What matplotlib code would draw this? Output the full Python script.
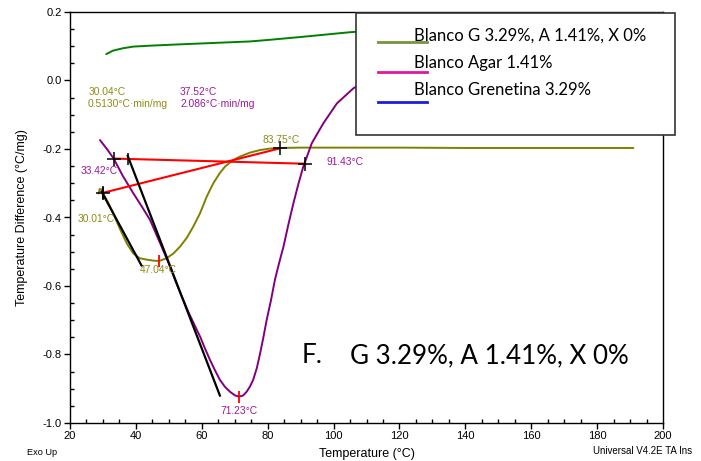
import matplotlib
matplotlib.use("Agg")
import matplotlib.pyplot as plt
from matplotlib.ticker import MultipleLocator
from matplotlib.lines import Line2D
from matplotlib.patches import Rectangle

# DSC curves (temperature in C, heat flow in C/mg)
grenetina_t = [31, 32, 33, 36, 39.2, 45, 52, 59.5, 67, 74.6, 79.7, 90, 105, 120, 150, 190]
grenetina_y = [0.077, 0.082, 0.087, 0.094, 0.099, 0.102, 0.105, 0.108, 0.111, 0.114,
               0.118, 0.127, 0.141, 0.150, 0.160, 0.168]

mezcla_t = [28.7, 29.0, 29.6, 30.0, 31.5, 33, 35, 37.2, 39.2, 41.2, 43.3, 45.3, 47.04,
            49.3, 51.4, 53.4, 55.4, 57.4, 59.5, 61.5, 63.5, 65.5, 67, 68.5, 70, 71.6,
            74.5, 77.7, 80.5, 83.75, 90, 100, 120, 140, 160, 180, 191]
mezcla_y = [-0.33, -0.317, -0.318, -0.328, -0.355, -0.385, -0.43, -0.475, -0.505, -0.519,
            -0.523, -0.526, -0.527, -0.519, -0.505, -0.485, -0.46, -0.427, -0.387, -0.339,
            -0.30, -0.27, -0.252, -0.24, -0.23, -0.222, -0.211, -0.203, -0.199, -0.197,
            -0.196, -0.196, -0.196, -0.197, -0.197, -0.197, -0.197]

agar_t = [29.1, 31.2, 33.2, 36, 39.2, 41.8, 44.3, 47.8, 50, 52, 54, 55.9, 57.7, 59.5, 61,
          62.5, 64, 65.5, 67, 68.6, 70, 71.23, 72.5, 73.6, 74.6, 75.6, 76.7, 77.7, 78.7,
          79.7, 81, 82.2, 83.5, 84.8, 86.3, 87.8, 89.3, 90.8, 93.4, 96.9, 101, 106, 115,
          130, 150, 190]
agar_y = [-0.174, -0.20, -0.227, -0.278, -0.329, -0.368, -0.407, -0.485, -0.535, -0.585,
          -0.632, -0.675, -0.712, -0.748, -0.783, -0.816, -0.846, -0.874, -0.894, -0.909,
          -0.919, -0.923, -0.92, -0.909, -0.894, -0.874, -0.84, -0.797, -0.75, -0.699,
          -0.642, -0.582, -0.532, -0.485, -0.42, -0.359, -0.303, -0.252, -0.183, -0.125,
          -0.067, -0.023, 0.03, 0.07, 0.09, 0.10]

# integration baselines and onset tangents
mezcla_base_t = [30.01, 83.75]
mezcla_base_y = [-0.328, -0.198]
agar_base_t = [33.42, 91.43]
agar_base_y = [-0.228, -0.243]
mezcla_tan_t = [29.6, 41.7]
mezcla_tan_y = [-0.325, -0.54]
agar_tan_t = [37.52, 65.5]
agar_tan_y = [-0.22, -0.92]

mezcla_peak = (47.04, -0.527)
agar_peak = (71.23, -0.923)
onset_marks_t = [30.04, 37.52]
onset_marks_y = [-0.328, -0.228]

legend_labels = ["Blanco G 3.29%, A 1.41%, X 0%", "Blanco Agar 1.41%", "Blanco Grenetina 3.29%"]
legend_colors = ["#77933C", "#E0169E", "#1C1CE0"]

OLIVE = "#808000"
PURPLE = "#800080"
OLIVE_TXT = "#8C8C14"
PURPLE_TXT = "#9A1A9A"

W, H = 701, 461
fig = plt.figure(figsize=(W / 100, H / 100), dpi=100)
ax = fig.add_axes([70 / W, 1 - 423 / H, (663 - 70) / W, (423 - 12) / H])


def px(x, y):
    return x / W, 1 - y / H


curve = dict(lw=1.4, solid_joinstyle="round", solid_capstyle="round")
ax.plot(grenetina_t, grenetina_y, color="#008000", **curve)
ax.plot(mezcla_t, mezcla_y, color=OLIVE, **curve)
ax.plot(agar_t, agar_y, color=PURPLE, **curve)

ax.plot(mezcla_base_t, mezcla_base_y, color="red", lw=1.5)
ax.plot(agar_base_t, agar_base_y, color="red", lw=1.5)
ax.plot(mezcla_tan_t, mezcla_tan_y, color="black", lw=1.6)
ax.plot(agar_tan_t, agar_tan_y, color="black", lw=1.6)

ax.plot(mezcla_base_t + agar_base_t, mezcla_base_y + agar_base_y, ls="none",
        marker="+", ms=10, mew=1.1, color="black")
ax.plot(onset_marks_t, onset_marks_y, ls="none", marker="|", ms=9, mew=1.1, color="black")
ax.plot([mezcla_peak[0], agar_peak[0]], [mezcla_peak[1], agar_peak[1]], ls="none",
        marker="|", ms=9, mew=1.3, color="red")

lab = dict(fontsize=7.4, family="Liberation Sans")
ax.text(25.5, -0.019, "30.04°C\n0.5130°C·min/mg", color=OLIVE_TXT, va="top",
        linespacing=1.2, **lab)
ax.text(53.4, -0.019, "37.52°C\n2.086°C·min/mg", color=PURPLE_TXT, va="top",
        linespacing=1.2, **lab)
ax.text(23.3, -0.264, "33.42°C", color=PURPLE_TXT, va="center", **lab)
ax.text(22.4, -0.404, "30.01°C", color=OLIVE_TXT, va="center", **lab)
ax.text(78.3, -0.174, "83.75°C", color=OLIVE_TXT, va="center", **lab)
ax.text(98.0, -0.238, "91.43°C", color=PURPLE_TXT, va="center", **lab)
ax.text(41.2, -0.553, f"{mezcla_peak[0]:.2f}°C", color=OLIVE_TXT, va="center", **lab)
ax.text(agar_peak[0], -0.965, f"{agar_peak[0]:.2f}°C", color=PURPLE_TXT, va="center",
        ha="center", **lab)

ax.set_xlim(20, 200)
ax.set_ylim(-1.0, 0.2)
ax.xaxis.set_major_locator(MultipleLocator(20))
ax.xaxis.set_minor_locator(MultipleLocator(5))
ax.yaxis.set_major_locator(MultipleLocator(0.2))
ax.yaxis.set_minor_locator(MultipleLocator(0.05))
ax.yaxis.set_major_formatter(plt.FuncFormatter(lambda v, p: f"{v:.1f}"))
ax.tick_params(which="major", direction="out", length=4, width=1, labelsize=8, pad=2)
ax.tick_params(which="minor", direction="in", length=3, width=1)
for t in ax.get_xticklabels() + ax.get_yticklabels():
    t.set_family("Liberation Sans")
for s in ax.spines.values():
    s.set_linewidth(1.0)

ax.set_xlabel("Temperature (°C)", fontsize=9, family="Liberation Sans", labelpad=5)
ax.set_ylabel("Temperature Difference (°C/mg)", fontsize=9, family="Liberation Sans",
              labelpad=10.5)

fig.text(*px(27, 452), "Exo Up", fontsize=6.6, family="Liberation Sans", va="center")
fig.text(*px(593, 451), "Universal V4.2E TA Ins", fontsize=7.0,
         family="Liberation Sans", va="center")

# legend box drawn by hand, it sticks out past the right spine
fig.add_artist(Rectangle(px(356, 135), (675 - 356) / W, (135 - 13) / H,
                         transform=fig.transFigure, facecolor="white",
                         edgecolor="#333333", lw=1.2, zorder=10))
text_y = [36, 63, 90]
line_y = [42, 72, 102]
for lbl, col, ty, ly in zip(legend_labels, legend_colors, text_y, line_y):
    x0, y0 = px(378, ly)
    x1, _ = px(427, ly)
    fig.add_artist(Line2D([x0, x1], [y0, y0], transform=fig.transFigure, color=col,
                          lw=2, zorder=11))
    fig.text(*px(414, ty), lbl, fontsize=12, family="Lato", va="center", zorder=12)

fig.text(*px(302, 363), "F.", fontsize=18.7, family="Lato", va="baseline")
fig.text(*px(350, 363), "G 3.29%, A 1.41%, X 0%", fontsize=18.7, family="Lato",
         va="baseline")

fig.savefig("out.png", dpi=100)
